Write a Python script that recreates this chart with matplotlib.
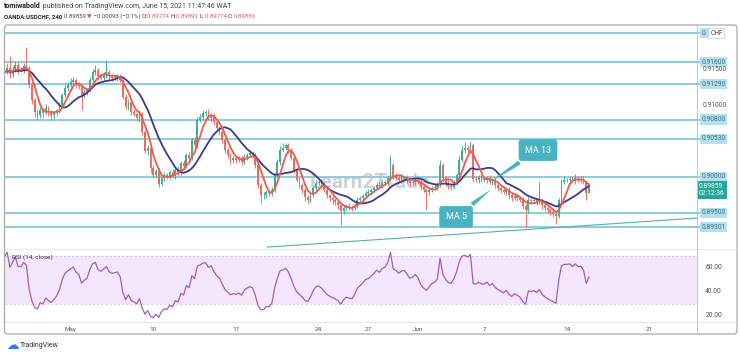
#!/usr/bin/env python3

# USDCHF 4h candles with MA5 / MA13, marked levels and an RSI(14) pane.

import numpy as np
import pandas as pd
import matplotlib.pyplot as plt
from matplotlib.patches import FancyBboxPatch
import matplotlib.transforms as mtransforms

plt.rcParams['font.family'] = ['Roboto', 'DejaVu Sans']

# Bars are 4h candles, 6 per trading day; day 0 = Mon May 3.
first_day = -7
first_open = 0.9142
closes = [
    0.9140, 0.9144, 0.9141, 0.9146, 0.9143, 0.9145,
    0.9143, 0.9146, 0.9149, 0.9145, 0.9147, 0.9146,
    0.9149, 0.9145, 0.9142, 0.9146, 0.9149, 0.9147,
    0.9146, 0.9152, 0.9143, 0.9149, 0.9156, 0.9149,
    0.9149, 0.9154, 0.9152, 0.9128, 0.9107, 0.9090,
    0.9086, 0.9093, 0.9089, 0.9096, 0.9090, 0.9086,
    0.9089, 0.9093, 0.9100, 0.9114, 0.9124, 0.9128,
    0.9132, 0.9135, 0.9129, 0.9126, 0.9114, 0.9118,
    0.9121, 0.9135, 0.9146, 0.9149, 0.9140, 0.9138,
    0.9142, 0.9146, 0.9140, 0.9138, 0.9139, 0.9140,
    0.9135, 0.9112, 0.9098, 0.9104, 0.9090, 0.9088,
    0.9082, 0.9088, 0.9062, 0.9036, 0.9041, 0.9012,
    0.9003, 0.9008, 0.8990, 0.8999, 0.9003, 0.9001,
    0.9007, 0.9001, 0.9010, 0.9006, 0.9019, 0.9015,
    0.9031, 0.9026, 0.9051, 0.9045, 0.9079, 0.9083,
    0.9089, 0.9090, 0.9082, 0.9086, 0.9076, 0.9068,
    0.9063, 0.9051, 0.9038, 0.9031, 0.9024, 0.9026,
    0.9024, 0.9026, 0.9021, 0.9028, 0.9031, 0.9033,
    0.9031, 0.9017, 0.8989, 0.8975, 0.8975, 0.8979,
    0.8978, 0.8982, 0.9003, 0.9021, 0.9038, 0.9040,
    0.9044, 0.9038, 0.9026, 0.9010, 0.8996, 0.8989,
    0.8982, 0.8972, 0.8968, 0.8975, 0.8985, 0.8992,
    0.8993, 0.8989, 0.8982, 0.8975, 0.8971, 0.8968,
    0.8965, 0.8961, 0.8952, 0.8957, 0.8960, 0.8958,
    0.8957, 0.8961, 0.8968, 0.8971, 0.8974, 0.8978,
    0.8979, 0.8982, 0.8985, 0.8989, 0.8987, 0.8992,
    0.8993, 0.8999, 0.9017, 0.9001, 0.8999, 0.8996,
    0.8999, 0.9000, 0.8996, 0.8992, 0.8993, 0.8996,
    0.8993, 0.8986, 0.8982, 0.8979, 0.8982, 0.8985,
    0.8986, 0.8989, 0.9017, 0.8999, 0.8992, 0.8987,
    0.8986, 0.8992, 0.9003, 0.9024, 0.9038, 0.9040,
    0.9038, 0.9045, 0.8997, 0.8996, 0.9000, 0.8996,
    0.8996, 0.8999, 0.8993, 0.8996, 0.8989, 0.8985,
    0.8982, 0.8979, 0.8982, 0.8975, 0.8971, 0.8974,
    0.8971, 0.8968, 0.8960, 0.8954, 0.8968, 0.8967,
    0.8968, 0.8965, 0.8968, 0.8961, 0.8957, 0.8954,
    0.8951, 0.8949, 0.8946, 0.8968, 0.8993, 0.8996,
    0.8996, 0.8997, 0.8994, 0.8999, 0.8996, 0.8997,
    0.8993, 0.89774, 0.89859,
]
# upper / lower wick beyond the body, in pips
wick_hi = [
    3, 2, 4, 3, 2, 3,   2, 4, 3, 2, 3, 4,   4, 3, 2, 5, 3, 2,
    4, 6, 16, 5, 6, 4,  4, 5, 27, 3, 4, 3,  3, 4, 3, 5, 3, 2,
    3, 2, 4, 3, 5, 4,   6, 4, 3, 3, 3, 4,   3, 4, 4, 7, 3, 4,
    4, 17, 3, 4, 3, 3,  3, 2, 3, 4, 3, 4,   3, 3, 2, 3, 4, 3,
    4, 3, 5, 3, 4, 3,   3, 4, 3, 5, 3, 4,   3, 4, 3, 4, 5, 4,
    4, 3, 5, 3, 3, 4,   3, 4, 3, 4, 3, 3,   4, 3, 3, 4, 3, 5,
    3, 3, 2, 3, 4, 3,   3, 4, 3, 4, 5, 7,   4, 3, 3, 2, 3, 4,
    3, 2, 3, 4, 3, 4,   3, 4, 3, 3, 2, 3,   3, 4, 3, 2, 3, 4,
    3, 3, 4, 3, 3, 4,   4, 3, 3, 4, 5, 4,   3, 4, 14, 3, 4, 3,
    4, 3, 3, 4, 3, 3,   3, 4, 3, 3, 4, 3,   3, 4, 7, 3, 3, 4,
    3, 4, 3, 5, 6, 9,   4, 5, 3, 4, 3, 3,   4, 3, 4, 3, 3, 4,
    3, 4, 3, 4, 3, 3,   3, 3, 4, 3, 4, 3,   4, 3, 25, 3, 3, 4,
    3, 3, 2, 3, 4, 5,   3, 4, 3, 5, 3, 4,   4, 3, 3,
]
wick_lo = [
    3, 3, 2, 4, 3, 2,   3, 2, 4, 3, 3, 2,   2, 4, 3, 3, 2, 4,
    4, 3, 5, 4, 3, 6,   3, 4, 3, 4, 5, 6,   6, 4, 5, 3, 5, 7,
    5, 3, 4, 3, 3, 4,   3, 4, 5, 4, 21, 4,  4, 3, 3, 4, 5, 3,
    3, 4, 5, 4, 3, 5,   3, 4, 3, 5, 4, 3,   4, 5, 4, 3, 5, 6,
    4, 5, 4, 3, 5, 4,   4, 3, 4, 3, 3, 4,   3, 4, 3, 3, 4, 3,
    3, 4, 3, 5, 4, 4,   4, 3, 5, 4, 6, 4,   4, 3, 5, 3, 4, 3,
    3, 4, 4, 11, 5, 4,  5, 4, 3, 3, 4, 3,   3, 4, 3, 4, 3, 4,
    4, 5, 4, 3, 3, 4,   3, 4, 3, 4, 4, 5,   4, 5, 19, 4, 3, 4,
    4, 3, 4, 3, 4, 3,   3, 4, 3, 3, 4, 3,   3, 4, 3, 4, 3, 4,
    4, 3, 4, 5, 3, 4,   3, 4, 3, 25, 4, 3,  3, 4, 3, 4, 5, 4,
    4, 3, 3, 4, 3, 4,   3, 4, 4, 3, 4, 3,   3, 4, 3, 4, 5, 4,
    4, 3, 4, 5, 4, 3,   4, 3, 5, 24, 4, 3,  3, 4, 3, 5, 4, 4,
    4, 5, 11, 3, 4, 3,  3, 4, 3, 4, 3, 4,   3, 9, 0,
]

levels = [0.9200, 0.9160, 0.9129, 0.9080, 0.9053, 0.9000, 0.8950, 0.89301]
level_labels = ['0.', '0.91600', '0.91290', '0.90800', '0.90530',
                '0.90000', '0.89500', '0.89301']
scale_prices = [0.9150, 0.9100]
scale_labels = ['0.91500', '0.91000']

tick_days = [0, 5, 10, 15, 18, 21, 25, 30, 35]
tick_labels = ['May', '10', '17', '24', '27', 'Jun', '7', '14', '21']
rsi_ticks = [60, 40, 20]

trend_days = [11.9, 37.9]
trend_prices = [0.89025, 0.89430]

callout_text = ['MA 13', 'MA 5']
callout_days = [28.25, 23.3]
callout_prices = [0.90375, 0.89445]
callout_tip_days = [25.1, 25.6]
callout_tip_prices = [0.89890, 0.89860]

W, H = 740, 357
c_up, c_dn = '#3fae94', '#ef6a5c'
c_level = '#7fcadd'
c_call = '#47b3c3'
fs_axis = 4.9


def px_axes(fig, x0, y0, x1, y1, **kw):
    return fig.add_axes([x0 / W, 1 - y1 / H, (x1 - x0) / W, (y1 - y0) / H], **kw)


def rsi(c, n=14):
    d = pd.Series(c).diff()
    up = d.clip(lower=0).ewm(alpha=1 / n, adjust=False).mean()
    dn = (-d.clip(upper=0)).ewm(alpha=1 / n, adjust=False).mean()
    return 100 - 100 / (1 + up / dn)


def main():
    c = np.array(closes)
    o = np.array([first_open] + closes[:-1])
    hi = np.maximum(o, c) + np.array(wick_hi) * 1e-4
    lo = np.minimum(o, c) - np.array(wick_lo) * 1e-4
    x = first_day + np.arange(len(c)) / 6.0
    cols = [c_up if cc >= oo else c_dn for oo, cc in zip(o, c)]

    fig = plt.figure(figsize=(W / 100, H / 100), dpi=100)
    xlim = (-3.96, 37.86)

    # price pane
    ax = px_axes(fig, 5, 25, 697, 248)
    ax.set_xlim(*xlim)
    ax.set_ylim(0.89012, 0.92115)
    ax.axis('off')

    for lv in levels:
        ax.axhline(lv, color=c_level, lw=1.3, zorder=1)

    ax.text(18.1, 0.8992, 'Learn2Trade', fontsize=15, color='#b9bec7', alpha=0.7,
            ha='center', va='center', fontweight='bold', zorder=1)

    ax.plot(trend_days, trend_prices, color='#55b39c', lw=0.8, zorder=2, clip_on=False)

    ax.vlines(x, lo, hi, colors=cols, lw=0.65, zorder=3)
    ax.bar(x, np.maximum(np.abs(c - o), 0.00004), bottom=np.minimum(o, c),
           width=0.11, color=cols, lw=0, zorder=3)

    s = pd.Series(c)
    ax.plot(x, s.rolling(13).mean(), color='#3c3a8e', lw=1.3, zorder=4)
    ax.plot(x, s.rolling(5).mean(), color='#ef5b4c', lw=1.3, zorder=5)

    for t, dx, py, tx, ty in zip(callout_text, callout_days, callout_prices,
                                 callout_tip_days, callout_tip_prices):
        ax.annotate(t, xy=(tx, ty), xytext=(dx, py), fontsize=6.5, color='white',
                    ha='center', va='center', zorder=6,
                    bbox=dict(boxstyle='round,pad=0.7,rounding_size=0.3', fc=c_call, ec='none'),
                    arrowprops=dict(arrowstyle='wedge,tail_width=0.5,shrink_factor=0.5',
                                    fc=c_call, ec='none'))

    # price scale labels
    tr = mtransforms.blended_transform_factory(ax.transAxes, ax.transData)
    for lv, lab in zip(levels, level_labels):
        ax.plot([1.0, 1.005], [lv, lv], color=c_level, lw=1.3, transform=tr, clip_on=False)
        ax.text(1.0065, lv, lab, transform=tr, fontsize=fs_axis, color='#2f6f86',
                va='center', ha='left', clip_on=False,
                bbox=dict(boxstyle='square,pad=0.25', fc='#b6e1ec', ec='none'))
    ax.text(1.019, levels[0], 'CHF', transform=tr, fontsize=fs_axis, color='#444',
            va='center', ha='left', clip_on=False,
            bbox=dict(boxstyle='square,pad=0.25', fc='white', ec='#bbbbbb', lw=0.4))
    for p, lab in zip(scale_prices, scale_labels):
        ax.text(1.0085, p, lab, transform=tr, fontsize=fs_axis, color='#555',
                va='center', ha='left', clip_on=False)
    # last price box: first line sits on the price, countdown below it
    ax.annotate('%.5f\n02:12:36' % c[-1], xy=(1.003, c[-1]), xycoords=tr,
                xytext=(0, 3.2), textcoords='offset points', fontsize=fs_axis,
                color='white', va='top', ha='left', linespacing=1.1, annotation_clip=False,
                bbox=dict(boxstyle='square,pad=0.3', fc='#26a69a', ec='none'))

    # RSI pane
    rx = px_axes(fig, 5, 249, 697, 321)
    rx.set_xlim(*xlim)
    rx.set_ylim(15.8, 75.8)
    r = rsi(c)
    rx.axhspan(30, 70, color='#f4e7fb', lw=0, zorder=0)
    for lv in (30, 70):
        rx.axhline(lv, color='#c9bcd8', lw=0.5, ls=(0, (3, 3)), zorder=1)
    rx.plot(x, r, color='#a35cbd', lw=0.9, zorder=3)
    rx.text(0.01, 0.86, 'RSI (14, close)', transform=rx.transAxes, fontsize=4.6,
            color='#333')
    for sp in rx.spines.values():
        sp.set_visible(False)
    rx.set_yticks([])
    rx.set_xticks(tick_days)
    rx.set_xticklabels(tick_labels)
    rx.tick_params(axis='x', length=0, pad=4, labelsize=4.6, labelcolor='#555')
    rtr = mtransforms.blended_transform_factory(rx.transAxes, rx.transData)
    for v in rsi_ticks:
        rx.text(1.012, v, '%.2f' % v, transform=rtr, fontsize=fs_axis, color='#555',
                va='center', ha='left', clip_on=False)

    # page overlay: frame, separators, header and footer
    ov = fig.add_axes([0, 0, 1, 1], zorder=10)
    ov.set_xlim(0, W)
    ov.set_ylim(H, 0)
    ov.axis('off')
    ov.add_patch(FancyBboxPatch((4.5, 25), 732.5, 309, boxstyle='round,pad=0,rounding_size=3',
                                fc='none', ec='#a9a9a9', lw=0.9))
    ov.plot([697, 697], [25, 334], color='#c4c4c4', lw=0.7)
    ov.plot([5, 737], [248.5, 248.5], color='#e2e2e2', lw=0.6)
    ov.plot([5, 737], [321.5, 321.5], color='#e2e2e2', lw=0.6)

    fs = 5.05
    t = ov.text(4, 6.5, 'tomiwabold', fontsize=fs, fontweight='bold', color='#222', va='center')
    ov.annotate(' published on TradingView.com, June 15, 2021 11:47:46 WAT', xy=(1, 0.5),
                xycoords=t, va='center', fontsize=fs, color='#444')

    fs2 = 4.35
    parts = [('OANDA:USDCHF, 240 ', '#222', 'bold'), ('0.89859 ', '#444', 'normal'),
             ('\u25bc', '#ef5350', 'normal'), (' \u22120.00093 (\u22120.1%) ', '#444', 'normal'),
             ('O:', '#333', 'normal'), ('0.89774 ', '#ef5350', 'normal'),
             ('H:', '#333', 'normal'), ('0.89892 ', '#ef5350', 'normal'),
             ('L:', '#333', 'normal'), ('0.89774 ', '#ef5350', 'normal'),
             ('C:', '#333', 'normal'), ('0.89859', '#ef5350', 'normal')]
    prev = ov.text(4, 16.5, parts[0][0], fontsize=fs2, color=parts[0][1],
                   fontweight=parts[0][2], va='center')
    for txt, col, wt in parts[1:]:
        prev = ov.annotate(txt, xy=(1, 0.5), xycoords=prev, va='center', fontsize=fs2,
                           color=col, fontweight=wt)

    ov.text(6, 345.5, '\u2601', fontsize=9, color='#2f7fe0', va='center',
            family='DejaVu Sans')
    ov.text(20, 345.5, 'TradingView', fontsize=5, color='#333', va='center')

    fig.savefig('out.png', dpi=100)


if __name__ == '__main__':
    main()
